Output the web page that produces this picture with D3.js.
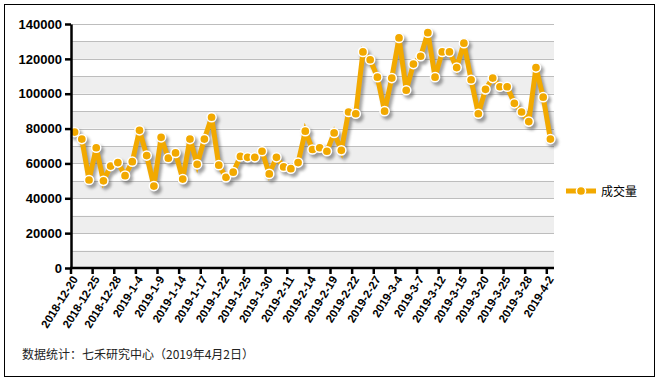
<!DOCTYPE html>
<html>
<head>
<meta charset="utf-8">
<script src="https://cdn.jsdelivr.net/npm/d3@7"></script>
<style>
  body { margin: 0; background: #fff; }
  svg { display: block; font-family: "Liberation Sans", Arial, sans-serif; }
</style>
</head>
<body>
<svg id="chart" width="659" height="381"></svg>
<script>
// trading days (category axis)
const dates = [
  "2018-12-20", "2018-12-21", "2018-12-24", "2018-12-25", "2018-12-26", "2018-12-27", "2018-12-28",
  "2019-1-2", "2019-1-3", "2019-1-4", "2019-1-7", "2019-1-8", "2019-1-9", "2019-1-10", "2019-1-11",
  "2019-1-14", "2019-1-15", "2019-1-16", "2019-1-17", "2019-1-18", "2019-1-21", "2019-1-22",
  "2019-1-23", "2019-1-24", "2019-1-25", "2019-1-28", "2019-1-29", "2019-1-30", "2019-1-31",
  "2019-2-1", "2019-2-11", "2019-2-12", "2019-2-13", "2019-2-14", "2019-2-15", "2019-2-18",
  "2019-2-19", "2019-2-20", "2019-2-21", "2019-2-22", "2019-2-25", "2019-2-26", "2019-2-27",
  "2019-2-28", "2019-3-1", "2019-3-4", "2019-3-5", "2019-3-6", "2019-3-7", "2019-3-8",
  "2019-3-11", "2019-3-12", "2019-3-13", "2019-3-14", "2019-3-15", "2019-3-18", "2019-3-19",
  "2019-3-20", "2019-3-21", "2019-3-22", "2019-3-25", "2019-3-26", "2019-3-27", "2019-3-28",
  "2019-3-29", "2019-4-1", "2019-4-2"
];

// 成交量
const volume = [
  78000, 74000, 50500, 69000, 50000, 58500, 60500, 53000, 61000, 79000,
  64500, 47000, 75000, 63000, 66000, 51000, 74000, 59500, 74000, 86500,
  59000, 52000, 55000, 64000, 63500, 63500, 67000, 54000, 63500, 58000,
  57000, 60500, 78500, 68000, 69000, 67000, 77500, 67500, 89500, 88500,
  124000, 119500, 109500, 90000, 109000, 132000, 102000, 117000, 121500, 135000,
  109500, 124000, 124000, 115000, 129000, 108000, 88500, 102500, 109000, 104000,
  104000, 94500, 89500, 84000, 115000, 98000, 74000
];

const yTicks = [0, 20000, 40000, 60000, 80000, 100000, 120000, 140000];
const seriesName = "成交量";
const sourceNote = "数据统计：七禾研究中心（2019年4月2日）";

const orange = "#F2A900";

const svg = d3.select("#chart");
const plotL = 71, plotR = 554, plotT = 24, plotB = 268;

// outer frame
svg.append("rect")
  .attr("x", 4.5).attr("y", 4.5)
  .attr("width", 650).attr("height", 372)
  .attr("fill", "#fff")
  .attr("stroke", "#000")
  .attr("stroke-width", 1);

const x = d3.scaleBand().domain(dates).range([plotL, plotR]).padding(0);
const y = d3.scaleLinear().domain([0, 140000]).range([plotB, plotT]);

const defs = svg.append("defs");
const blur = defs.append("filter").attr("id", "shadow")
  .attr("x", "-10%").attr("y", "-10%").attr("width", "120%").attr("height", "120%");
blur.append("feGaussianBlur").attr("stdDeviation", 1.6);

// alternating bands + gridlines
const bands = d3.range(0, 140000, 20000);
svg.append("g").selectAll("rect")
  .data(bands)
  .join("rect")
  .attr("x", plotL)
  .attr("width", plotR - plotL)
  .attr("y", d => y(d + 10000))
  .attr("height", d => y(d) - y(d + 10000))
  .attr("fill", "#EEEEEE");

svg.append("g").selectAll("line")
  .data(d3.range(10000, 140001, 10000))
  .join("line")
  .attr("x1", plotL).attr("x2", plotR)
  .attr("y1", d => Math.round(y(d)) + 0.5)
  .attr("y2", d => Math.round(y(d)) + 0.5)
  .attr("stroke", "#BDBDBD")
  .attr("stroke-width", 1.2);

// series
const cx = d => x(d) + x.bandwidth() / 2;
const pts = dates.map((d, i) => [cx(d), y(volume[i])]);
const line = d3.line();

const shadow = svg.append("g")
  .attr("transform", "translate(2.5,3)")
  .attr("filter", "url(#shadow)")
  .attr("opacity", 0.55);
shadow.append("path")
  .attr("d", line(pts))
  .attr("fill", "none")
  .attr("stroke", "#555")
  .attr("stroke-width", 5)
  .attr("stroke-linejoin", "miter");
shadow.selectAll("circle")
  .data(pts)
  .join("circle")
  .attr("cx", d => d[0]).attr("cy", d => d[1])
  .attr("r", 5.5)
  .attr("fill", "#555");

svg.append("path")
  .attr("d", line(pts))
  .attr("fill", "none")
  .attr("stroke", orange)
  .attr("stroke-width", 5)
  .attr("stroke-linejoin", "miter");

svg.append("g").selectAll("circle")
  .data(pts)
  .join("circle")
  .attr("cx", d => d[0]).attr("cy", d => d[1])
  .attr("r", 4.6)
  .attr("fill", orange)
  .attr("stroke", "#fff")
  .attr("stroke-width", 1.5);

// y axis
const yAxis = svg.append("g")
  .attr("transform", `translate(${plotL},0)`)
  .call(d3.axisLeft(y).tickValues(yTicks).tickSize(6).tickPadding(3).tickSizeOuter(0).tickFormat(d3.format("d")));
yAxis.select(".domain").attr("stroke", "#000").attr("stroke-width", 2.5);
yAxis.selectAll(".tick line").attr("stroke", "#000").attr("stroke-width", 2.5);
yAxis.selectAll(".tick text")
  .attr("fill", "#000")
  .style("font-size", "13px")
  .style("font-weight", "bold");

// x axis (ticks on category boundaries, every third day labelled)
const labelled = dates.filter((d, i) => i % 3 === 0);
const xAxis = svg.append("g");
xAxis.append("line")
  .attr("x1", plotL - 1).attr("x2", plotR)
  .attr("y1", plotB).attr("y2", plotB)
  .attr("stroke", "#000").attr("stroke-width", 2.5);
const xt = xAxis.selectAll("g.tick")
  .data(labelled)
  .join("g")
  .attr("class", "tick")
  .attr("transform", d => `translate(${x(d)},${plotB})`);
xt.append("line")
  .attr("y1", 0).attr("y2", 6)
  .attr("stroke", "#000").attr("stroke-width", 2.5);
xt.append("text")
  .attr("transform", "translate(4,9) rotate(-58)")
  .attr("text-anchor", "end")
  .attr("dy", "0.35em")
  .style("font-size", "11.5px")
  .style("font-weight", "bold")
  .text(d => d);

// legend
const lg = svg.append("g").attr("transform", "translate(566,191)");
lg.append("line")
  .attr("x1", 2.5).attr("x2", 32.5).attr("y1", 3).attr("y2", 3)
  .attr("stroke", "#555").attr("stroke-width", 5).attr("opacity", 0.5)
  .attr("filter", "url(#shadow)");
lg.append("line")
  .attr("x1", 0).attr("x2", 30).attr("y1", 0).attr("y2", 0)
  .attr("stroke", orange).attr("stroke-width", 5);
lg.append("circle")
  .attr("cx", 15).attr("cy", 0).attr("r", 4.6)
  .attr("fill", orange).attr("stroke", "#fff").attr("stroke-width", 1.5);
lg.append("text")
  .attr("x", 35).attr("y", 4.5)
  .style("font-family", "'Noto Sans CJK SC', sans-serif")
  .style("font-size", "12px")
  .attr("fill", "#000")
  .text(seriesName);

// source note
svg.append("text")
  .attr("x", 22).attr("y", 359)
  .style("font-family", "'Noto Sans CJK SC', sans-serif")
  .style("font-size", "12px")
  .attr("fill", "#222")
  .text(sourceNote);
</script>
</body>
</html>
